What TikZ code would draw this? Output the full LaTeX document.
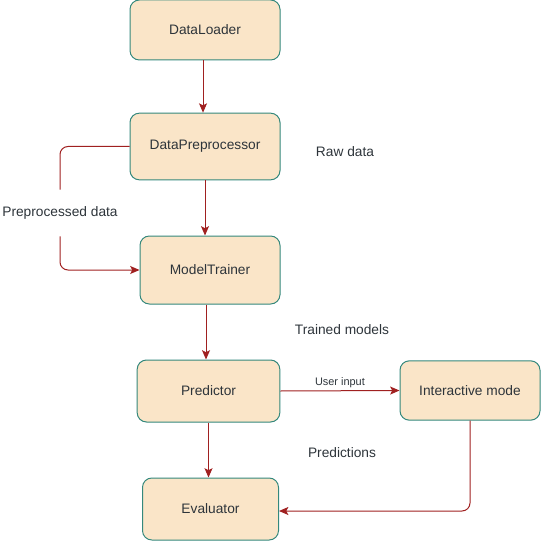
\documentclass[tikz,border=0pt]{standalone}
\usepackage{fontspec}
\setmainfont{Liberation Sans}
\usetikzlibrary{arrows.meta,positioning}
\definecolor{boxfill}{RGB}{250,229,200}
\definecolor{boxline}{RGB}{52,136,124}
\definecolor{flowred}{RGB}{160,32,32}
\definecolor{txt}{RGB}{45,52,58}
\begin{document}
\begin{tikzpicture}[x=0.75pt,y=-0.75pt,
  box/.style={draw=boxline,line width=0.75pt,rounded corners=7pt,fill=boxfill,align=center,font=\fontsize{10.3}{12}\selectfont,text=txt,inner sep=2pt},
  flow/.style={draw=flowred,line width=0.75pt,-{Stealth[length=7pt,width=6pt,inset=1.5pt]}},
  note/.style={font=\fontsize{10.3}{12}\selectfont,text=txt,inner sep=0pt}]
\useasboundingbox (0,0) rectangle (541,541);
\node[box,minimum width=112.5pt,minimum height=45pt] (loader) at (205,30) {DataLoader};
\node[box,minimum width=112.5pt,minimum height=50pt] (prep) at (205,146.5) {DataPreprocessor};
\node[box,minimum width=105pt,minimum height=51pt] (trainer) at (210,270) {ModelTrainer};
\node[box,minimum width=107pt,minimum height=46.5pt] (predictor) at (208.5,391) {Predictor};
\node[box,minimum width=105pt,minimum height=44.5pt] (interactive) at (470,390.5) {Interactive mode};
\node[box,minimum width=102pt,minimum height=46.5pt] (evaluator) at (210.5,509) {Evaluator};
% free labels
\node[note] (rawlbl) at (345,152) {Raw data};
\node[note] (trainlbl) at (342,330) {Trained models};
\node[note] (predlbl) at (342,453) {Predictions};
\node[note,minimum height=34.5pt] (prelbl) at (60,213) {Preprocessed data};
% connectors
\draw[flow] ([xshift=-1.5pt]loader.south)--([xshift=-1.5pt]loader.south |- prep.north);
\draw[flow] (prep.south)--(prep.south |- trainer.north);
\draw[flow] ([xshift=-3pt]trainer.south)--([xshift=-3pt]trainer.south |- predictor.north);
\draw[flow] (predictor.south)--(predictor.south |- evaluator.north);
\draw[flow] (predictor.east)--node[midway,above=1.5pt,font=\fontsize{8.2}{10}\selectfont,text=txt,inner sep=0pt]{User input}(interactive.west);
\draw[flow,rounded corners=6pt] (interactive.south) |- ([yshift=-1.5pt]evaluator.east);
\draw[draw=flowred,line width=0.75pt,rounded corners=6pt] (prep.west) -| (prelbl.north);
\draw[flow,rounded corners=6pt] (prelbl.south) |- (trainer.west);
\end{tikzpicture}
\end{document}
